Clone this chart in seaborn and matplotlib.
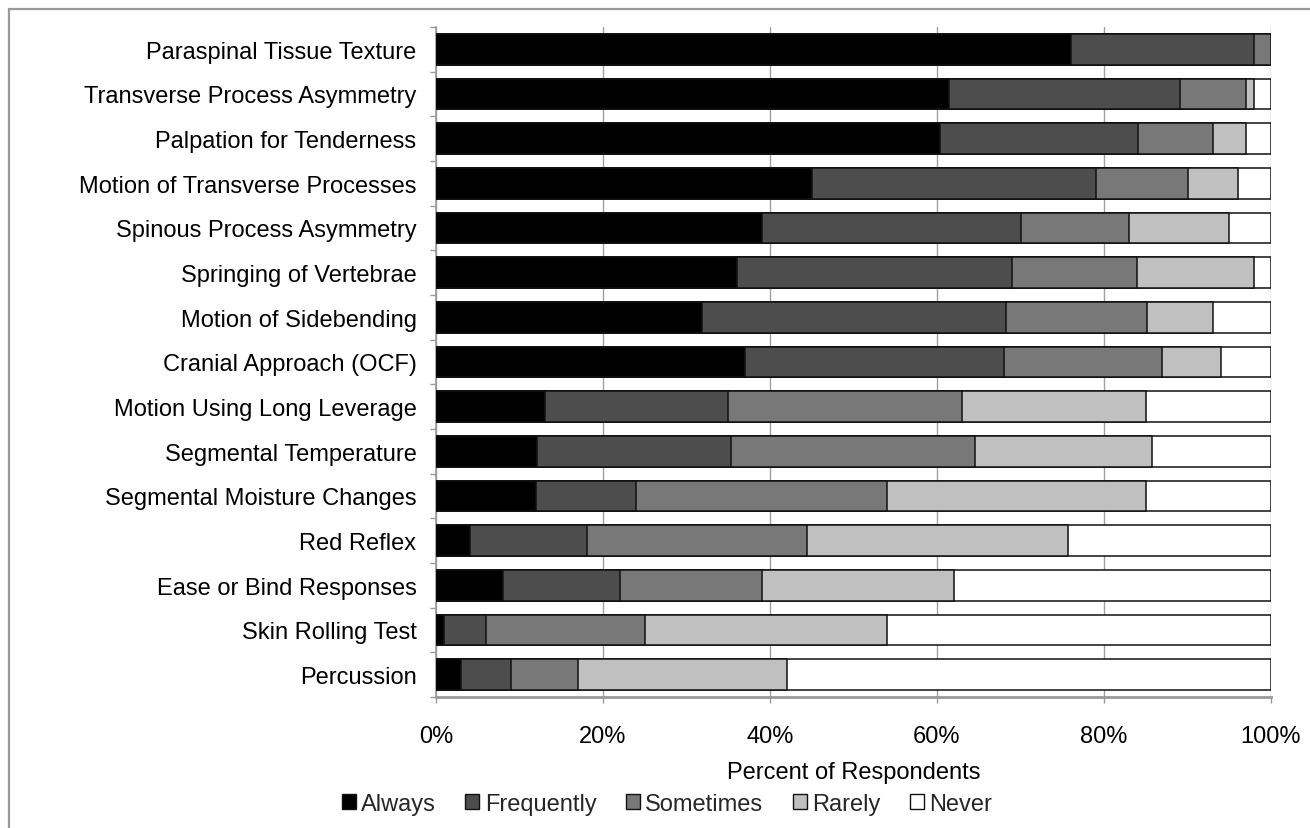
import matplotlib
matplotlib.use("Agg")
import matplotlib.pyplot as plt
from matplotlib.patches import Patch, Rectangle
from matplotlib.ticker import FixedLocator, PercentFormatter
import numpy as np
import pandas as pd
import seaborn as sns

categories = [
    "Paraspinal Tissue Texture",
    "Transverse Process Asymmetry",
    "Palpation for Tenderness",
    "Motion of Transverse Processes",
    "Spinous Process Asymmetry",
    "Springing of Vertebrae",
    "Motion of Sidebending",
    "Cranial Approach (OCF)",
    "Motion Using Long Leverage",
    "Segmental Temperature",
    "Segmental Moisture Changes",
    "Red Reflex",
    "Ease or Bind Responses",
    "Skin Rolling Test",
    "Percussion",
]
always = [76, 61.4, 60.4, 45, 39, 36, 31.8, 37, 13, 12.1, 12, 4.1, 8, 1, 3]
frequently = [22, 27.7, 23.7, 34, 31, 33, 36.5, 31, 22, 23.2, 12, 14, 14, 5, 6]
sometimes = [2, 7.9, 8.9, 11, 13, 15, 16.8, 19, 28, 29.3, 30, 26.3, 17, 19, 8]
rarely = [0, 1, 4, 6, 12, 14, 7.9, 7, 22, 21.2, 31, 31.3, 23, 29, 25]
never = [0, 2, 3, 4, 5, 2, 7, 6, 15, 14.2, 15, 24.3, 38, 46, 58]

levels = ["Always", "Frequently", "Sometimes", "Rarely", "Never"]
colors = ["#000000", "#4d4d4d", "#787878", "#c0c0c0", "#ffffff"]

df = pd.DataFrame({"Always": always, "Frequently": frequently,
                   "Sometimes": sometimes, "Rarely": rarely, "Never": never},
                  index=categories)
cum = df.cumsum(axis=1)

sns.set_theme(style="white")
plt.rcParams["font.family"] = ["Liberation Sans", "DejaVu Sans"]

fig = plt.figure(figsize=(13.1, 8.29), dpi=100)
ax = fig.add_axes([436 / 1310, 1 - 698 / 829, (1271 - 436) / 1310, (698 - 28) / 829])

# draw cumulative totals back to front so each level sits on top of the next
for level, col in reversed(list(zip(levels, colors))):
    sns.barplot(x=cum[level].values, y=categories, orient="h", color=col,
                width=0.69, edgecolor="#111111", linewidth=1.1, ax=ax, zorder=3)

ax.set_xlim(0, 100)
ax.set_ylim(len(categories) - 0.5, -0.5)
ax.xaxis.set_major_locator(FixedLocator([0, 20, 40, 60, 80, 100]))
ax.xaxis.set_major_formatter(PercentFormatter(decimals=0))
ax.grid(axis="x", color="#a0a0a0", linewidth=1.0, zorder=0)
ax.set_axisbelow(True)

for s in ["top", "right"]:
    ax.spines[s].set_visible(False)
ax.spines["left"].set_color("#999999")
ax.spines["bottom"].set_color("#999999")
ax.spines["left"].set_linewidth(1.2)
ax.spines["bottom"].set_linewidth(2.0)

ax.yaxis.set_minor_locator(FixedLocator(np.arange(-0.5, len(categories), 1)))
ax.tick_params(axis="y", which="major", length=0, pad=14, labelsize=17, labelcolor="#000000")
ax.tick_params(axis="y", which="minor", left=True, length=4.5, width=1, color="#999999")
ax.tick_params(axis="x", which="major", bottom=True, length=4.5, width=1, color="#999999",
               pad=16, labelsize=17, labelcolor="#000000")

ax.set_xlabel("Percent of Respondents", fontsize=17, labelpad=10, color="#000000")
ax.set_ylabel("")

handles = [Patch(facecolor=c, edgecolor="#111111", linewidth=1.0, label=l)
           for l, c in zip(levels, colors)]
fig.legend(handles=handles, loc="center", bbox_to_anchor=(667 / 1310, 1 - 805 / 829),
           ncol=5, frameon=False, fontsize=17, handlelength=0.6, handleheight=0.6,
           handletextpad=0.22, columnspacing=1.25)

fig.patches.append(Rectangle((9 / 1310, -0.1), 1.2, 1.1 - 10 / 829,
                             transform=fig.transFigure, fill=False,
                             edgecolor="#999999", linewidth=1.6))

fig.savefig("out.png", dpi=100)
